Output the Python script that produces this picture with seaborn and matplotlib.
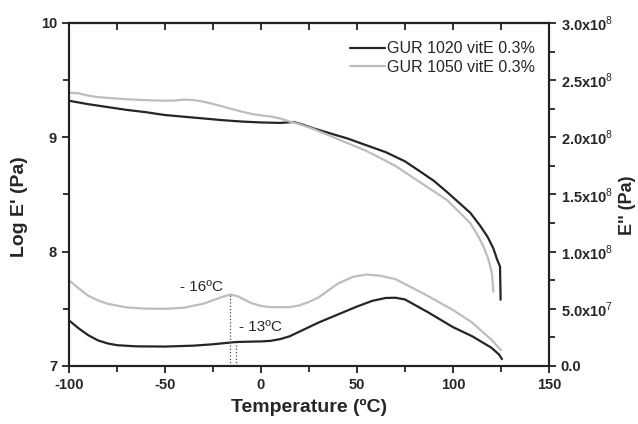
import pandas as pd
import matplotlib
matplotlib.use('Agg')
import matplotlib.pyplot as plt
from matplotlib.ticker import MultipleLocator, FuncFormatter
import seaborn as sns

sns.set_style("ticks")
plt.rcParams['font.family'] = ['Liberation Sans', 'DejaVu Sans']
plt.rcParams['axes.unicode_minus'] = False
plt.rcParams['mathtext.fontset'] = 'custom'
plt.rcParams['mathtext.rm'] = 'Liberation Sans'
plt.rcParams['mathtext.bf'] = 'Liberation Sans:bold'

# ── Data ─────────────────────────────────────────────────────────────────
# Log E' (left axis)
t_e1_1020 = [-100, -90, -80, -70, -60, -50, -40, -30, -20, -10, 0, 10, 17, 22, 27, 35,
             45, 55, 65, 75, 83, 90, 97, 103, 109, 114, 118, 121, 123, 124.5, 124.8]
e1_1020 = [9.32, 9.29, 9.265, 9.24, 9.22, 9.195, 9.18, 9.165, 9.15, 9.138, 9.13, 9.126, 9.134, 9.11, 9.08, 9.04,
           8.99, 8.93, 8.87, 8.79, 8.70, 8.62, 8.52, 8.43, 8.34, 8.23, 8.13, 8.03, 7.93, 7.87, 7.58]

t_e1_1050 = [-100, -95, -90, -85, -80, -70, -60, -50, -45, -40, -35, -30, -25, -20, -15, -10, -5, 0, 5, 10, 15,
             20, 27, 35, 45, 55, 62, 70, 79, 88, 97, 103, 109, 113, 116, 118.5, 120.3, 121]
e1_1050 = [9.39, 9.385, 9.365, 9.352, 9.345, 9.333, 9.325, 9.32, 9.322, 9.33, 9.326, 9.312, 9.292, 9.27, 9.247, 9.225,
           9.205, 9.192, 9.182, 9.165, 9.138,
           9.115, 9.075, 9.02, 8.95, 8.88, 8.82, 8.75, 8.65, 8.55, 8.45, 8.35, 8.25, 8.14, 8.04, 7.93, 7.81, 7.65]

# E'' (right axis), Pa
t_e2_1020 = [-100, -95, -90, -85, -80, -75, -65, -50, -35, -25, -13, 0, 5, 10, 15, 20, 25, 30, 40,
             50, 58, 65, 70, 75, 87, 100, 110, 115, 120, 124, 125.5]
e2_1020 = [4.0e7, 3.3e7, 2.7e7, 2.25e7, 1.98e7, 1.82e7, 1.72e7, 1.7e7, 1.78e7, 1.9e7, 2.1e7, 2.15e7, 2.2e7, 2.35e7,
           2.6e7, 3.0e7, 3.4e7, 3.8e7, 4.5e7,
           5.2e7, 5.7e7, 5.95e7, 5.97e7, 5.82e7, 4.7e7, 3.4e7, 2.6e7, 2.1e7, 1.6e7, 1.0e7, 0.6e7]

t_e2_1050 = [-100, -95, -90, -85, -80, -70, -60, -50, -40, -30, -25, -20, -16, -12, -8, -5, 0, 5, 15,
             20, 25, 30, 35, 40, 48, 55, 62, 70, 85, 100, 110, 120, 125]
e2_1050 = [7.5e7, 6.8e7, 6.15e7, 5.75e7, 5.45e7, 5.12e7, 5.02e7, 5.0e7, 5.1e7, 5.45e7, 5.75e7, 6.05e7, 6.25e7, 6.1e7,
           5.75e7, 5.5e7, 5.25e7, 5.15e7, 5.15e7,
           5.3e7, 5.6e7, 6.0e7, 6.6e7, 7.2e7, 7.8e7, 8.0e7, 7.9e7, 7.6e7, 6.3e7, 4.9e7, 3.8e7, 2.3e7, 1.4e7]

labels = ["GUR 1020 vitE 0.3%", "GUR 1050 vitE 0.3%"]
peak_t = [-16, -13]
peak_val = [6.25e7, 2.1e7]
peak_txt = ["- 16ºC", "- 13ºC"]

dark, light = "#252525", "#bdbdbd"

# ── Plot ─────────────────────────────────────────────────────────────────
fig = plt.figure(figsize=(6.38, 4.24), dpi=100)
ax = fig.add_axes([0.108, 0.1368, 0.7525, 0.809])
ax2 = ax.twinx()

sns.lineplot(x=t_e1_1020, y=e1_1020, ax=ax, color=dark, lw=1.6, sort=False, label=labels[0])
sns.lineplot(x=t_e1_1050, y=e1_1050, ax=ax, color=light, lw=1.6, sort=False, label=labels[1])
sns.lineplot(x=t_e2_1020, y=e2_1020, ax=ax2, color=dark, lw=1.6, sort=False)
sns.lineplot(x=t_e2_1050, y=e2_1050, ax=ax2, color=light, lw=1.6, sort=False)

# glass transition markers
for t, v in zip(peak_t, peak_val):
    ax2.plot([t, t], [0, v], ls=':', color="#444444", lw=0.9)
ax2.text(-31, 6.9e7, peak_txt[0], ha='center', va='center', fontsize=11)
ax2.text(0, 3.4e7, peak_txt[1], ha='center', va='center', fontsize=11)

ax.set_xlim(-100, 150)
ax.set_ylim(7, 10)
ax2.set_ylim(0, 3e8)

ax.xaxis.set_major_locator(MultipleLocator(50))
ax.xaxis.set_minor_locator(MultipleLocator(25))
ax.yaxis.set_major_locator(MultipleLocator(1))
ax.yaxis.set_minor_locator(MultipleLocator(0.5))
ax2.yaxis.set_major_locator(MultipleLocator(5e7))
ax2.yaxis.set_minor_locator(MultipleLocator(2.5e7))


def sci_fmt(v, pos):
    if v == 0:
        return "0.0"
    exp = len(str(int(v))) - 1
    return f"{v / 10**exp:.1f}x10$^{{{exp}}}$"


ax2.yaxis.set_major_formatter(FuncFormatter(sci_fmt))

for a in (ax, ax2):
    for s in a.spines.values():
        s.set_linewidth(1.5)
        s.set_color("#222222")
    a.tick_params(which='both', width=1.3, color="#222222", labelsize=10.5)
    a.tick_params(which='major', length=5)
    a.tick_params(which='minor', length=4)

# top axis: inward ticks, no labels
sec = ax.secondary_xaxis('top')
sec.set_xticks(range(-100, 151, 25))
sec.tick_params(direction='in', length=5, width=1.3, color="#222222", labeltop=False)
sec.spines['top'].set_linewidth(1.5)

for lab in ax.get_xticklabels() + ax.get_yticklabels() + ax2.get_yticklabels():
    lab.set_fontweight('bold')

ax.set_xlabel("Temperature (ºC)", fontsize=14, fontweight='bold')
ax.set_ylabel("Log E' (Pa)", fontsize=14, fontweight='bold')
ax2.set_ylabel("E'' (Pa)", fontsize=13, fontweight='bold')
ax.xaxis.set_label_coords(0.5, -0.12)
ax.yaxis.set_label_coords(-0.102, 0.464)
ax2.yaxis.set_label_coords(1.1625, 0.469)
ax.xaxis.label.set_va('center')
ax.yaxis.label.set_va('center')
ax2.yaxis.label.set_va('center')

ax.legend(loc='upper right', bbox_to_anchor=(0.985, 0.965), frameon=False, fontsize=11.5,
          handlelength=2.2, handletextpad=0.15, labelspacing=0.2, borderaxespad=0)

plt.savefig("out.png", dpi=100)
plt.close()
